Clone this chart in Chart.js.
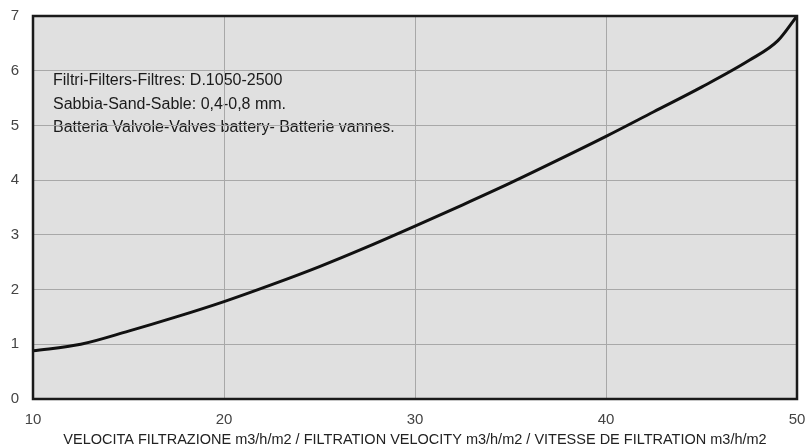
<!DOCTYPE html>
<html>
<head>
<meta charset="utf-8">
<script src="https://cdn.jsdelivr.net/npm/chart.js@4/dist/chart.umd.min.js"></script>
<style>
  html, body { margin: 0; padding: 0; background: #fff; }
  #wrap { width: 810px; height: 447px; }
</style>
</head>
<body>
<div id="wrap"><canvas id="lossChart"></canvas></div>
<script>
// velocity m3/h/m2 and pressure loss
const velocity = [10, 12.5, 15, 17.5, 20, 22.5, 25, 27.5, 30, 32.5, 35, 37.5, 40, 42.5, 45, 47.5, 49, 50];
const loss = [0.88, 1.0, 1.24, 1.5, 1.78, 2.09, 2.42, 2.78, 3.16, 3.55, 3.95, 4.37, 4.8, 5.25, 5.7, 6.19, 6.55, 7.0];
const xTicks = [10, 20, 30, 40, 50];
const yTicks = [0, 1, 2, 3, 4, 5, 6, 7];
const noteLines = [
  'Filtri-Filters-Filtres: D.1050-2500',
  'Sabbia-Sand-Sable: 0,4-0,8 mm.',
  'Batteria Valvole-Valves battery- Batterie vannes.'
];
const xTitle = 'VELOCITA FILTRAZIONE m3/h/m2 / FILTRATION VELOCITY m3/h/m2 / VITESSE DE FILTRATION m3/h/m2';

const points = velocity.map((v, i) => ({ x: v, y: loss[i] }));

// grey plot background + the note text, under the grid lines
const plotBack = {
  id: 'plotBack',
  beforeDraw(chart) {
    const { ctx, chartArea: a } = chart;
    ctx.save();
    ctx.fillStyle = '#e0e0e0';
    ctx.fillRect(a.left, a.top, a.right - a.left, a.bottom - a.top);
    ctx.fillStyle = '#1a1a1a';
    ctx.font = '16px "Liberation Sans", Arial, sans-serif';
    ctx.textBaseline = 'middle';
    noteLines.forEach((t, i) => ctx.fillText(t, a.left + 20, 81 + i * 23.5));
    ctx.restore();
  },
  afterDraw(chart) {
    const { ctx, chartArea: a } = chart;
    ctx.save();
    ctx.strokeStyle = '#1a1a1a';
    ctx.lineWidth = 2.5;
    ctx.strokeRect(a.left, a.top, a.right - a.left, a.bottom - a.top);
    ctx.restore();
  }
};

// drop the label overflow padding so layout.padding alone sets the plot box
function noOverflow(s) {
  s.paddingTop = 0;
  s.paddingBottom = 0;
  s.paddingLeft = 0;
  s.paddingRight = 0;
}

new Chart(document.getElementById('lossChart'), {
  type: 'line',
  data: {
    datasets: [{
      data: points,
      borderColor: '#111',
      borderWidth: 3,
      pointRadius: 0,
      cubicInterpolationMode: 'monotone',
      fill: false
    }]
  },
  options: {
    responsive: true,
    maintainAspectRatio: false,
    animation: false,
    layout: { padding: { top: 16, right: 13, left: 0, bottom: 0 } },
    plugins: { legend: { display: false }, tooltip: { enabled: false } },
    scales: {
      x: {
        type: 'linear',
        min: 10,
        max: 50,
        afterBuildTicks: s => { s.ticks = xTicks.map(v => ({ value: v })); },
        afterFit: s => { s.height = 48; noOverflow(s); },
        grid: { color: '#a8a8a8', lineWidth: 1, drawTicks: false },
        border: { display: false },
        ticks: {
          color: '#444',
          padding: 12,
          maxRotation: 0,
          font: { family: '"Liberation Sans", Arial, sans-serif', size: 15 }
        },
        title: {
          display: true,
          text: xTitle,
          color: '#222',
          padding: { top: 0, bottom: -2 },
          font: { family: '"Liberation Sans", Arial, sans-serif', size: 14.5 }
        }
      },
      y: {
        min: 0,
        max: 7,
        afterBuildTicks: s => { s.ticks = yTicks.map(v => ({ value: v })); },
        afterFit: s => { s.width = 33; noOverflow(s); },
        grid: { color: '#a8a8a8', lineWidth: 1, drawTicks: false },
        border: { display: false },
        ticks: {
          color: '#444',
          padding: 14,
          font: { family: '"Liberation Sans", Arial, sans-serif', size: 15 }
        }
      }
    }
  },
  plugins: [plotBack]
});
</script>
</body>
</html>
